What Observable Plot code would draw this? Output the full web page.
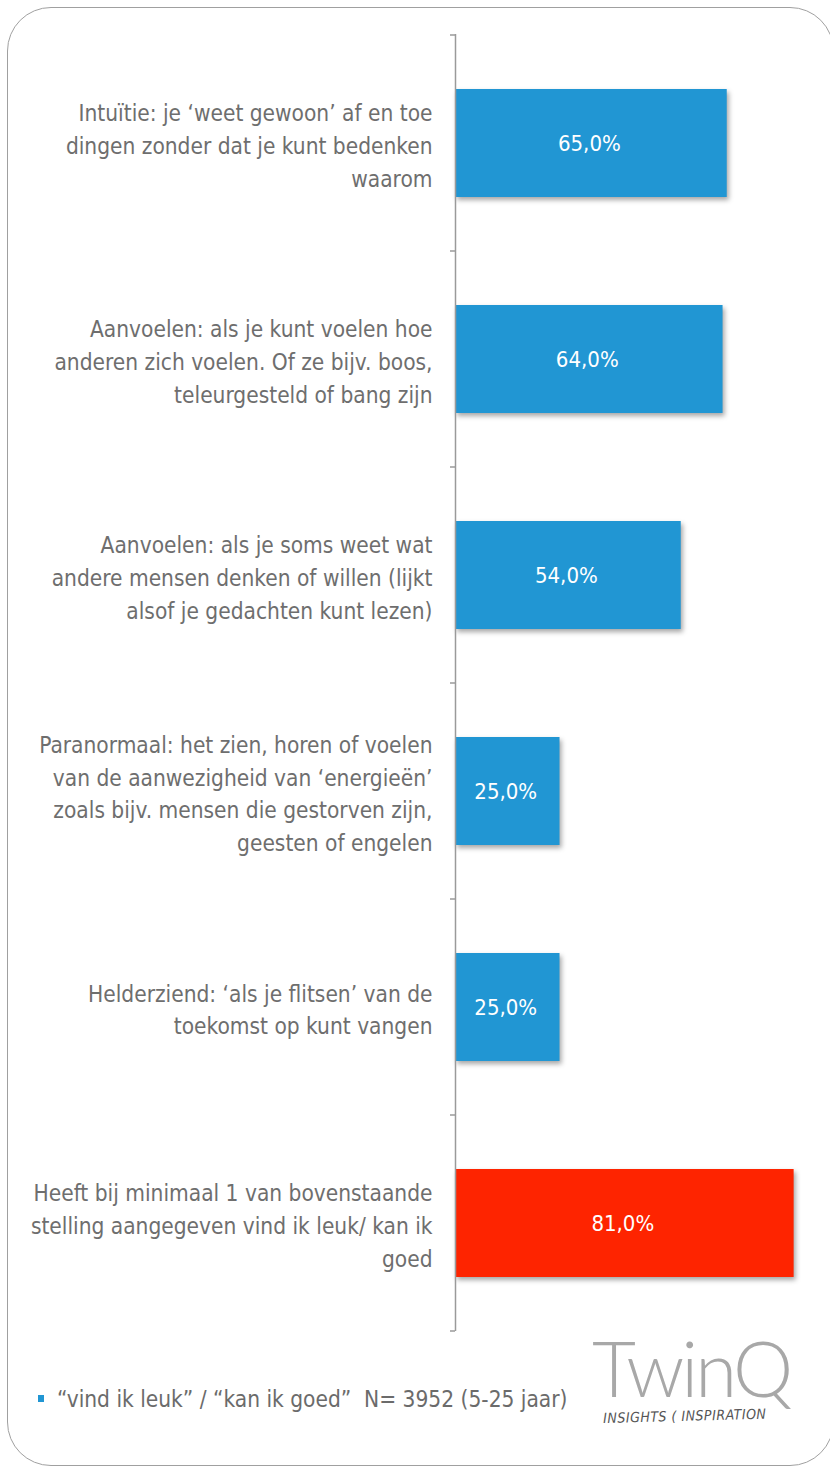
<!DOCTYPE html>
<html>
<head>
<meta charset="utf-8">
<script src="https://cdn.jsdelivr.net/npm/d3@7"></script>
<script src="https://cdn.jsdelivr.net/npm/@observablehq/plot@0.6"></script>
<style>
  html, body { margin: 0; padding: 0; background: #fff; }
  #wrap { position: relative; width: 830px; height: 1468px; overflow: hidden; font-family: "DejaVu Sans Condensed", "DejaVu Sans", sans-serif; }
  #frame { position: absolute; left: 7px; top: 7px; width: 827px; height: 1459px; border: 1.5px solid #a0a0a0; border-radius: 44px; box-sizing: border-box; }
  #chart { position: absolute; left: 0; top: 0; }
  g[aria-label="bar"] rect { filter: drop-shadow(2px 3px 2.5px rgba(0,0,0,0.35)); }
  #legend { position: absolute; left: 38px; top: 1386px; font-size: 22.5px; color: #6b6b6b; white-space: nowrap; }
  #legend .sw { display: inline-block; width: 6px; height: 7px; background: #2196d3; margin-right: 13px; vertical-align: middle; position: relative; top: -2px; }
  #logo { position: absolute; left: 592px; top: 1330px; font-family: "Lato", "Open Sans", sans-serif; font-weight: 300; font-size: 76px; color: #a8a8a8; letter-spacing: -3px; line-height: 1; }
  #tag { position: absolute; left: 603px; top: 1410px; font-family: "DejaVu Sans Condensed", sans-serif; font-style: italic; font-size: 14px; letter-spacing: 0.5px; color: #555; transform: rotate(-1.5deg); transform-origin: left top; }
</style>
</head>
<body>
<div id="wrap">
  <div id="frame"></div>
  <div id="chart"></div>
  <div id="legend"><span class="sw"></span>“vind ik leuk” / “kan ik goed”&nbsp; N= 3952 (5-25 jaar)</div>
  <div id="logo">TwinQ</div>
  <div id="tag">INSIGHTS ( INSPIRATION</div>
</div>
<script>
const categories = [
  "Intuïtie: je ‘weet gewoon’ af en toe\ndingen zonder dat je kunt bedenken\nwaarom",
  "Aanvoelen: als je kunt voelen hoe\nanderen zich voelen. Of ze bijv. boos,\nteleurgesteld of bang zijn",
  "Aanvoelen: als je soms weet wat\nandere mensen denken of willen (lijkt\nalsof je gedachten kunt lezen)",
  "Paranormaal: het zien, horen of voelen\nvan de aanwezigheid van ‘energieën’\nzoals bijv. mensen die gestorven zijn,\ngeesten of engelen",
  "Helderziend: ‘als je flitsen’ van de\ntoekomst op kunt vangen",
  "Heeft bij minimaal 1 van bovenstaande\nstelling aangegeven vind ik leuk/ kan ik\ngoed"
];
const values = [65.0, 64.0, 54.0, 25.0, 25.0, 81.0];
const groups = ["item", "item", "item", "item", "item", "total"];

const data = categories.map((c, i) => ({cat: c, value: values[i], group: groups[i]}));
const fmt = v => v.toFixed(1).replace(".", ",") + "%";

// boundary ticks drawn from the band scale
function bandTicks(index, scales, values, dims) {
  const y = scales.y;
  const bw = y.bandwidth();
  const step = bw / 0.5;
  const ns = "http://www.w3.org/2000/svg";
  const g = document.createElementNS(ns, "g");
  const x0 = scales.x(0);
  const pos = categories.map(c => y(c) - step * 0.25);
  pos.push(y(categories[categories.length - 1]) + bw + step * 0.25);
  for (const p of pos) {
    const l = document.createElementNS(ns, "line");
    l.setAttribute("x1", x0 - 5); l.setAttribute("x2", x0);
    l.setAttribute("y1", p); l.setAttribute("y2", p);
    l.setAttribute("stroke", "#9a9a9a"); l.setAttribute("stroke-width", 1.5);
    g.appendChild(l);
  }
  return g;
}

const chart = Plot.plot({
  width: 830,
  height: 1341,
  marginTop: 34,
  marginBottom: 10,
  marginLeft: 455,
  marginRight: 0,
  style: {fontFamily: '"DejaVu Sans Condensed", "DejaVu Sans", sans-serif', fontSize: "22.5px", background: "transparent"},
  x: {domain: [0, 89.7], axis: null},
  y: {domain: categories, paddingInner: 0.5, paddingOuter: 0.25, axis: null},
  color: {domain: ["item", "total"], range: ["#2196d3", "#fe2400"]},
  marks: [
    Plot.barX(data, {x: "value", y: "cat", fill: "group"}),
    Plot.ruleX([0], {stroke: "#9a9a9a", strokeWidth: 1.5}),
    bandTicks,
    Plot.text(data, {x: d => d.value / 2, y: "cat", text: d => fmt(d.value), fill: "white", fontSize: 22, textAnchor: "middle", dx: -2}),
    Plot.text(data, {x: () => 0, y: "cat", text: "cat", textAnchor: "end", dx: -23, lineHeight: 1.45, fill: "#6e6e6e", fontSize: 22.5})
  ]
});
document.getElementById("chart").appendChild(chart);
</script>
</body>
</html>
